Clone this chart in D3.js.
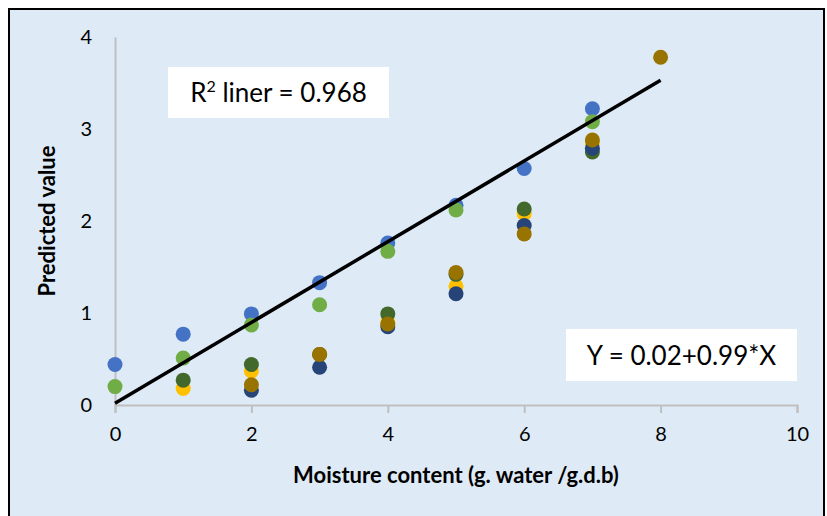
<!DOCTYPE html>
<html>
<head>
<meta charset="utf-8">
<script src="https://cdn.jsdelivr.net/npm/d3@7"></script>
<style>
  html, body { margin: 0; padding: 0; background: #ffffff; }
  svg { display: block; }
  text { font-family: Lato, "Open Sans", sans-serif; }
</style>
</head>
<body>
<svg id="chart" width="827" height="516"></svg>
<script>
// Moisture content levels (x) and predicted values per series
const moisture = [0, 1, 2, 3, 4, 5, 6, 7, 8];

const seriesBlue      = [0.44, 0.77, 0.99, 1.33, 1.76, 2.17, 2.57, 3.22, null];
const seriesGreen     = [0.20, 0.51, 0.87, 1.09, 1.67, 2.12, null, 3.08, null];
const seriesYellow    = [null, 0.18, 0.37, 0.55, 0.90, 1.29, 2.08, 2.85, null];
const seriesDarkGreen = [null, 0.27, 0.44, 0.55, 0.99, 1.42, 2.13, 2.75, null];
const seriesDarkBlue  = [null, null, 0.16, 0.41, 0.85, 1.21, 1.95, 2.79, null];
const seriesBrown     = [null, null, 0.22, 0.55, 0.88, 1.44, 1.86, 2.88, 3.78];

const seriesColors = ["#4472c4", "#70ad47", "#ffc000", "#43682b", "#264478", "#997300"];

// Fitted line end points [x, y]
const fitLine = [[0, 0.02], [8, 3.53]];

const xTicks = [0, 2, 4, 6, 8, 10];
const yTicks = [0, 1, 2, 3, 4];

const xTitle = "Moisture content (g. water /g.d.b)";
const yTitle = "Predicted value";
const equationText = "Y = 0.02+0.99*X";

const allSeries = [seriesBlue, seriesGreen, seriesYellow, seriesDarkGreen, seriesDarkBlue, seriesBrown];

const svg = d3.select("#chart");

// Chart area frame
svg.append("rect")
  .attr("x", 9).attr("y", 9)
  .attr("width", 815).attr("height", 520)
  .attr("fill", "#deeaf6")
  .attr("stroke", "#000")
  .attr("stroke-width", 2);

const x = d3.scaleLinear().domain([0, 10]).range([115, 797]);
const y = d3.scaleLinear().domain([0, 4]).range([405, 37]);

// X axis
const xAxis = svg.append("g")
  .attr("transform", `translate(0,${y(0)})`)
  .call(d3.axisBottom(x).tickValues(xTicks).tickFormat(d3.format("d"))
    .tickSize(8).tickPadding(14).tickSizeOuter(8));
xAxis.select(".domain").attr("stroke", "#bfbfbf").attr("stroke-width", 2);
xAxis.selectAll(".tick line").attr("stroke", "#bfbfbf").attr("stroke-width", 2);
xAxis.selectAll(".tick text")
  .attr("fill", "#000")
  .style("font-size", "20px")
  .style("font-family", "Lato, sans-serif");

// Y axis
const yAxis = svg.append("g")
  .attr("transform", `translate(${x(0)},0)`)
  .call(d3.axisLeft(y).tickValues(yTicks).tickFormat(d3.format("d"))
    .tickSize(0).tickPadding(23));
yAxis.select(".domain").attr("stroke", "#bfbfbf").attr("stroke-width", 2);
yAxis.selectAll(".tick text")
  .attr("fill", "#000")
  .style("font-size", "20px")
  .style("font-family", "Lato, sans-serif");

// Points, one layer per series
allSeries.forEach((vals, i) => {
  const pts = moisture.map((m, j) => ({ m, v: vals[j] })).filter(d => d.v !== null);
  svg.append("g")
    .selectAll("circle")
    .data(pts)
    .join("circle")
    .attr("cx", d => x(d.m))
    .attr("cy", d => y(d.v))
    .attr("r", 7.5)
    .attr("fill", seriesColors[i]);
});

// Fitted line
svg.append("path")
  .datum(fitLine)
  .attr("d", d3.line().x(d => x(d[0])).y(d => y(d[1])))
  .attr("stroke", "#000")
  .attr("stroke-width", 3.5)
  .attr("fill", "none");

// R squared label box
svg.append("rect")
  .attr("x", 168).attr("y", 67).attr("width", 221).attr("height", 51)
  .attr("fill", "#fff");
const rText = svg.append("text")
  .attr("x", 278.5).attr("y", 102)
  .attr("text-anchor", "middle")
  .style("font-size", "26px")
  .attr("fill", "#000");
rText.append("tspan").text("R");
rText.append("tspan").attr("dy", -10).style("font-size", "16px").text("2");
rText.append("tspan").attr("dy", 10).text(" liner = 0.968");

// Equation label box
svg.append("rect")
  .attr("x", 566).attr("y", 329).attr("width", 231).attr("height", 52)
  .attr("fill", "#fff");
svg.append("text")
  .attr("x", 681.5).attr("y", 365)
  .attr("text-anchor", "middle")
  .style("font-size", "26px")
  .attr("fill", "#000")
  .text(equationText);

// Axis titles
svg.append("text")
  .attr("x", (x(0) + x(10)) / 2).attr("y", 483)
  .attr("text-anchor", "middle")
  .style("font-size", "22px")
  .style("font-weight", "bold")
  .attr("fill", "#000")
  .text(xTitle);

svg.append("text")
  .attr("transform", `translate(55,${(y(0) + y(4)) / 2}) rotate(-90)`)
  .attr("text-anchor", "middle")
  .style("font-size", "22px")
  .style("font-weight", "bold")
  .attr("fill", "#000")
  .text(yTitle);
</script>
</body>
</html>
